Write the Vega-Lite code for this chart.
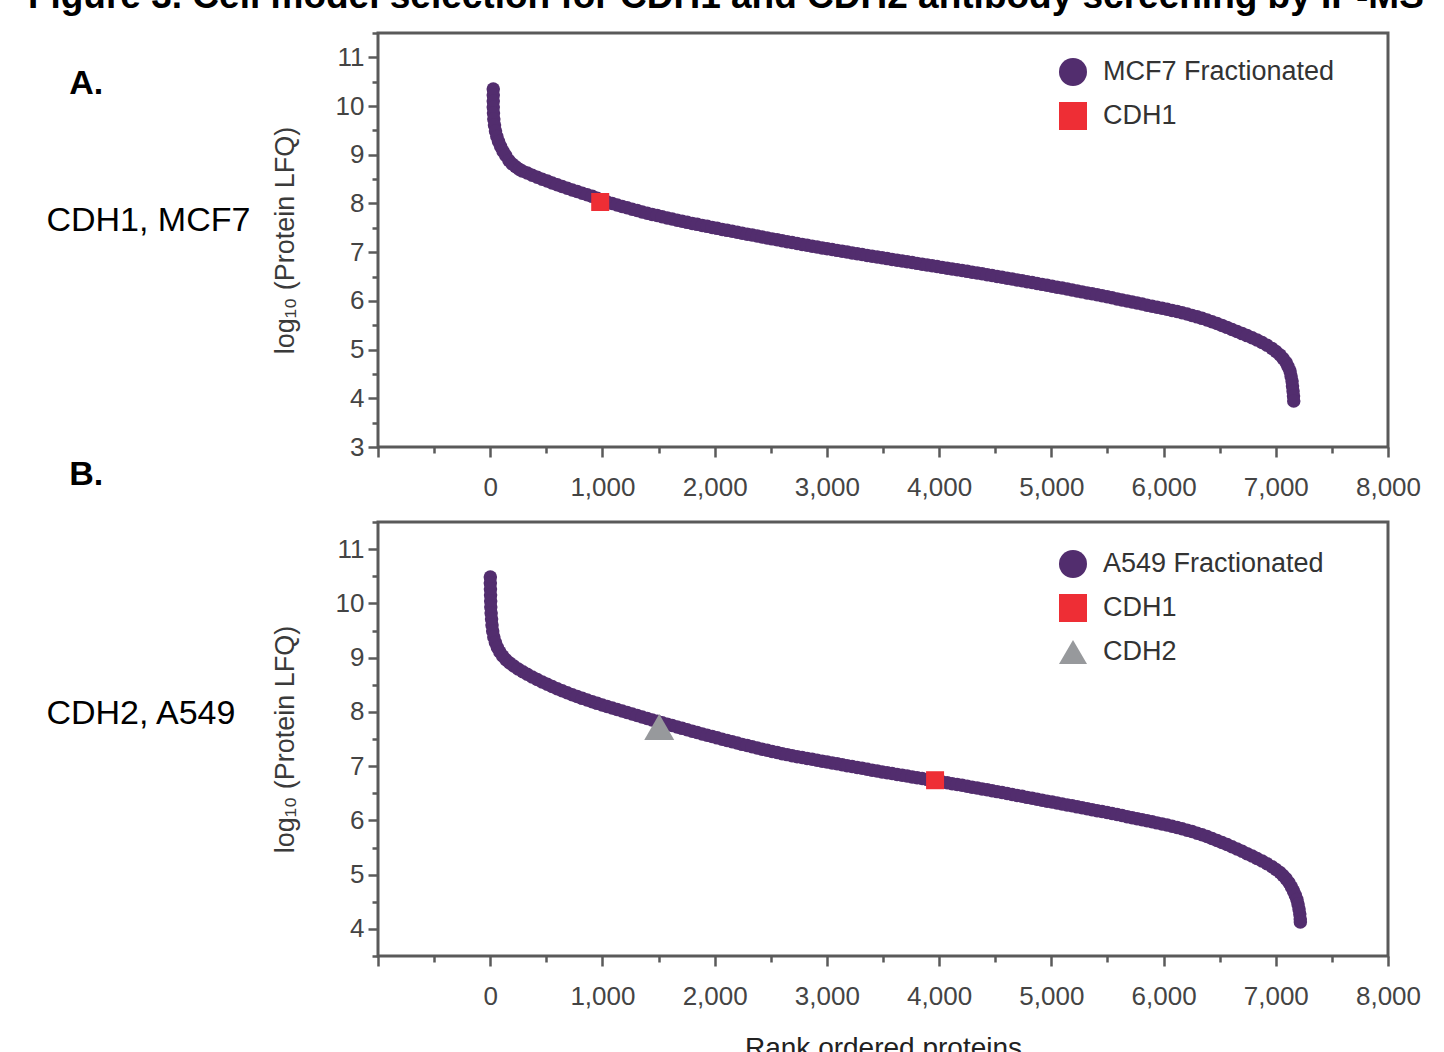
{
"$schema": "https://vega.github.io/schema/vega-lite/v6.json",
"background": "white",
"padding": {"left": 27, "top": -23, "right": 5, "bottom": -8},
"title": {"text": "Figure 3. Cell model selection for CDH1 and CDH2 antibody screening by IP-MS", "anchor": "start", "frame": "bounds", "font": "Liberation Sans", "fontSize": 37, "fontWeight": "bold", "color": "#000000", "offset": 3, "dx": -17},
"spacing": 75,
"bounds": "flush",
"resolve": {"scale": {"color": "independent", "shape": "independent"}},
"config": {
  "font": "Liberation Sans",
  "view": {"stroke": "#5a5a5a", "strokeWidth": 3},
  "axis": {"grid": false, "domain": false, "tickColor": "#5a5a5a", "tickWidth": 2.5, "tickCount": 100, "labelFont": "Liberation Sans", "labelFontSize": 26, "labelColor": "#444444", "labelFlush": false, "labelOverlap": false, "titleFont": "Liberation Sans", "titleFontWeight": "normal", "titleColor": "#3a3a3a"},
  "legend": {"labelLimit": 400}
},
"vconcat": [
{
  "width": 1010, "height": 414,
  "layer": [
    {
      "data": {"values": [
{"rank":27,"lfq":10.351},{"rank":27,"lfq":10.228},{"rank":27,"lfq":10.104},{"rank":27,"lfq":9.981},{"rank":29,"lfq":9.859},{"rank":32,"lfq":9.735},{"rank":38,"lfq":9.612},{"rank":47,"lfq":9.489},{"rank":59,"lfq":9.376},{"rank":74,"lfq":9.273},{"rank":93,"lfq":9.17},{"rank":114,"lfq":9.072},{"rank":138,"lfq":8.986},{"rank":167,"lfq":8.883},{"rank":196,"lfq":8.811},{"rank":227,"lfq":8.753},{"rank":258,"lfq":8.704},{"rank":285,"lfq":8.667},
{"rank":330,"lfq":8.624},{"rank":374,"lfq":8.581},{"rank":419,"lfq":8.54},{"rank":463,"lfq":8.499},{"rank":508,"lfq":8.46},{"rank":552,"lfq":8.421},{"rank":597,"lfq":8.384},{"rank":641,"lfq":8.347},{"rank":686,"lfq":8.312},{"rank":731,"lfq":8.277},{"rank":775,"lfq":8.244},{"rank":820,"lfq":8.211},{"rank":864,"lfq":8.179},{"rank":909,"lfq":8.146},{"rank":953,"lfq":8.109},{"rank":998,"lfq":8.068},{"rank":1042,"lfq":8.031},{"rank":1087,"lfq":7.998},{"rank":1131,"lfq":7.967},{"rank":1176,"lfq":7.938},{"rank":1220,"lfq":7.91},{"rank":1265,"lfq":7.883},{"rank":1310,"lfq":7.854},{"rank":1354,"lfq":7.827},{"rank":1399,"lfq":7.801},{"rank":1443,"lfq":7.776},{"rank":1488,"lfq":7.751},{"rank":1532,"lfq":7.727},{"rank":1577,"lfq":7.702},{"rank":1621,"lfq":7.68},{"rank":1666,"lfq":7.657},{"rank":1710,"lfq":7.634},{"rank":1755,"lfq":7.612},{"rank":1800,"lfq":7.591},{"rank":1844,"lfq":7.571},{"rank":1889,"lfq":7.55},{"rank":1933,"lfq":7.53},{"rank":1978,"lfq":7.509},{"rank":2022,"lfq":7.489},{"rank":2067,"lfq":7.468},{"rank":2111,"lfq":7.448},{"rank":2156,"lfq":7.429},{"rank":2201,"lfq":7.409},{"rank":2245,"lfq":7.39},{"rank":2290,"lfq":7.37},{"rank":2334,"lfq":7.351},{"rank":2379,"lfq":7.33},{"rank":2423,"lfq":7.312},{"rank":2468,"lfq":7.292},{"rank":2512,"lfq":7.273},{"rank":2557,"lfq":7.253},{"rank":2601,"lfq":7.234},{"rank":2646,"lfq":7.216},{"rank":2690,"lfq":7.197},{"rank":2735,"lfq":7.179},{"rank":2780,"lfq":7.16},{"rank":2824,"lfq":7.142},{"rank":2869,"lfq":7.123},{"rank":2913,"lfq":7.107},{"rank":2958,"lfq":7.088},{"rank":3002,"lfq":7.072},{"rank":3047,"lfq":7.053},{"rank":3091,"lfq":7.037},{"rank":3136,"lfq":7.018},{"rank":3180,"lfq":7.002},{"rank":3225,"lfq":6.985},{"rank":3270,"lfq":6.967},{"rank":3314,"lfq":6.951},{"rank":3359,"lfq":6.934},{"rank":3403,"lfq":6.918},{"rank":3448,"lfq":6.901},{"rank":3492,"lfq":6.885},{"rank":3537,"lfq":6.868},{"rank":3581,"lfq":6.852},{"rank":3626,"lfq":6.836},{"rank":3671,"lfq":6.819},{"rank":3715,"lfq":6.803},{"rank":3760,"lfq":6.786},{"rank":3804,"lfq":6.77},{"rank":3849,"lfq":6.754},{"rank":3893,"lfq":6.737},{"rank":3938,"lfq":6.721},{"rank":3982,"lfq":6.704},{"rank":4027,"lfq":6.688},{"rank":4072,"lfq":6.671},{"rank":4116,"lfq":6.655},{"rank":4161,"lfq":6.638},{"rank":4205,"lfq":6.622},{"rank":4250,"lfq":6.606},{"rank":4294,"lfq":6.589},{"rank":4339,"lfq":6.573},{"rank":4383,"lfq":6.556},{"rank":4428,"lfq":6.538},{"rank":4472,"lfq":6.519},{"rank":4517,"lfq":6.503},{"rank":4561,"lfq":6.485},{"rank":4606,"lfq":6.466},{"rank":4651,"lfq":6.45},{"rank":4695,"lfq":6.431},{"rank":4740,"lfq":6.413},{"rank":4784,"lfq":6.394},{"rank":4829,"lfq":6.376},{"rank":4873,"lfq":6.357},{"rank":4918,"lfq":6.339},{"rank":4962,"lfq":6.32},{"rank":5007,"lfq":6.302},{"rank":5051,"lfq":6.281},{"rank":5096,"lfq":6.263},{"rank":5141,"lfq":6.244},{"rank":5185,"lfq":6.224},{"rank":5230,"lfq":6.205},{"rank":5274,"lfq":6.185},{"rank":5319,"lfq":6.164},{"rank":5363,"lfq":6.146},{"rank":5408,"lfq":6.125},{"rank":5452,"lfq":6.105},{"rank":5497,"lfq":6.084},{"rank":5541,"lfq":6.064},{"rank":5586,"lfq":6.041},{"rank":5630,"lfq":6.02},{"rank":5675,"lfq":6.0},{"rank":5720,"lfq":5.979},{"rank":5764,"lfq":5.957},{"rank":5809,"lfq":5.936},{"rank":5853,"lfq":5.912},{"rank":5898,"lfq":5.889},{"rank":5942,"lfq":5.868},{"rank":5987,"lfq":5.848},{"rank":6031,"lfq":5.827},{"rank":6076,"lfq":5.805},{"rank":6121,"lfq":5.782},{"rank":6165,"lfq":5.757},{"rank":6210,"lfq":5.73},{"rank":6254,"lfq":5.702},{"rank":6299,"lfq":5.672},{"rank":6343,"lfq":5.641},{"rank":6388,"lfq":5.607},{"rank":6432,"lfq":5.572},{"rank":6477,"lfq":5.535},{"rank":6521,"lfq":5.497},{"rank":6566,"lfq":5.456},{"rank":6610,"lfq":5.413},{"rank":6655,"lfq":5.371},{"rank":6700,"lfq":5.328},{"rank":6744,"lfq":5.287},{"rank":6789,"lfq":5.244},{"rank":6833,"lfq":5.197},{"rank":6878,"lfq":5.146},{"rank":6922,"lfq":5.088},{"rank":6967,"lfq":5.022},{"rank":7002,"lfq":4.961},{"rank":7038,"lfq":4.889},{"rank":7065,"lfq":4.817},{"rank":7092,"lfq":4.735},{"rank":7109,"lfq":4.653},{"rank":7127,"lfq":4.56},{"rank":7136,"lfq":4.458},{"rank":7145,"lfq":4.355},{"rank":7149,"lfq":4.252},{"rank":7154,"lfq":4.15},{"rank":7158,"lfq":4.047},{"rank":7160,"lfq":3.944}
      ]},
      "mark": {"type": "point", "filled": true, "size": 182, "opacity": 1},
      "encoding": {
        "x": {"field": "rank", "type": "quantitative", "scale": {"domain": [-1000, 8000], "nice": false, "zero": false},
              "axis": {"title": null, "values": [-1000,-500,0,500,1000,1500,2000,2500,3000,3500,4000,4500,5000,5500,6000,6500,7000,7500,8000], "labelExpr": "datum.value >= 0 && datum.value % 1000 === 0 ? format(datum.value, ',') : ''", "tickSize": {"condition": {"test": "datum.value % 1000 !== 0", "value": 6}, "value": 10}, "labelPadding": 17}},
        "y": {"field": "lfq", "type": "quantitative", "scale": {"domain": [3, 11.5], "nice": false, "zero": false},
              "axis": {"title": "log₁₀ (Protein LFQ)", "titleFontSize": 27, "titlePadding": 36, "values": [3,3.5,4,4.5,5,5.5,6,6.5,7,7.5,8,8.5,9,9.5,10,10.5,11,11.5], "labelExpr": "datum.value % 1 === 0 ? format(datum.value, 'd') : ''", "tickSize": {"condition": {"test": "datum.value % 1 !== 0", "value": 6}, "value": 10}, "labelPadding": 4}},
        "color": {"datum": "MCF7 Fractionated", "type": "nominal", "scale": {"domain": ["MCF7 Fractionated", "CDH1"], "range": ["#522d6e", "#ee2e35"]},
                  "legend": {"orient": "none", "legendX": 681, "legendY": 25, "title": null, "symbolSize": 784, "symbolStrokeWidth": 0, "labelFontSize": 27, "labelColor": "#333333", "labelOffset": 16, "rowPadding": 16, "padding": 0, "labelLimit": 400}},
        "shape": {"datum": "MCF7 Fractionated", "type": "nominal", "scale": {"domain": ["MCF7 Fractionated", "CDH1"], "range": ["circle", "square"]},
                  "legend": {"orient": "none", "legendX": 681, "legendY": 25, "title": null, "symbolSize": 784, "symbolStrokeWidth": 0, "labelFontSize": 27, "labelColor": "#333333", "labelOffset": 16, "rowPadding": 16, "padding": 0, "labelLimit": 400}}
      }
    },
    {
      "data": {"values": [{"rank": 980, "lfq": 8.03}]},
      "mark": {"type": "point", "filled": true, "size": 324, "opacity": 1},
      "encoding": {
        "x": {"field": "rank", "type": "quantitative"},
        "y": {"field": "lfq", "type": "quantitative"},
        "color": {"datum": "CDH1", "type": "nominal"},
        "shape": {"datum": "CDH1", "type": "nominal"}
      }
    },
    {
      "data": {"values": [{"label": "A."}]},
      "mark": {"type": "text", "align": "left", "baseline": "alphabetic", "fontSize": 34, "fontWeight": "bold", "color": "#000000", "clip": false},
      "encoding": {"x": {"datum": -3751}, "y": {"datum": 10.248}, "text": {"field": "label"}}
    },
    {
      "data": {"values": [{"label": "CDH1, MCF7"}]},
      "mark": {"type": "text", "align": "left", "baseline": "alphabetic", "fontSize": 34, "color": "#000000", "clip": false},
      "encoding": {"x": {"datum": -3955}, "y": {"datum": 7.435}, "text": {"field": "label"}}
    }
  ]
},
{
  "width": 1010, "height": 434,
  "layer": [
    {
      "data": {"values": [
{"rank":1,"lfq":10.485},{"rank":1,"lfq":10.375},{"rank":2,"lfq":10.264},{"rank":3,"lfq":10.153},{"rank":4,"lfq":10.043},{"rank":5,"lfq":9.932},{"rank":8,"lfq":9.822},{"rank":12,"lfq":9.711},{"rank":16,"lfq":9.6},{"rank":22,"lfq":9.49},{"rank":32,"lfq":9.379},{"rank":46,"lfq":9.278},{"rank":64,"lfq":9.186},{"rank":86,"lfq":9.103},{"rank":111,"lfq":9.029},{"rank":140,"lfq":8.961},{"rank":174,"lfq":8.9},{"rank":210,"lfq":8.845},{"rank":249,"lfq":8.789},{"rank":290,"lfq":8.738},
{"rank":330,"lfq":8.692},{"rank":374,"lfq":8.642},{"rank":419,"lfq":8.596},{"rank":463,"lfq":8.552},{"rank":508,"lfq":8.509},{"rank":552,"lfq":8.469},{"rank":597,"lfq":8.428},{"rank":641,"lfq":8.388},{"rank":686,"lfq":8.351},{"rank":731,"lfq":8.316},{"rank":775,"lfq":8.282},{"rank":820,"lfq":8.249},{"rank":864,"lfq":8.218},{"rank":909,"lfq":8.187},{"rank":953,"lfq":8.157},{"rank":998,"lfq":8.128},{"rank":1042,"lfq":8.1},{"rank":1087,"lfq":8.072},{"rank":1131,"lfq":8.045},{"rank":1176,"lfq":8.017},{"rank":1220,"lfq":7.989},{"rank":1265,"lfq":7.962},{"rank":1310,"lfq":7.934},{"rank":1354,"lfq":7.906},{"rank":1399,"lfq":7.879},{"rank":1443,"lfq":7.851},{"rank":1488,"lfq":7.825},{"rank":1532,"lfq":7.8},{"rank":1577,"lfq":7.774},{"rank":1621,"lfq":7.748},{"rank":1666,"lfq":7.722},{"rank":1710,"lfq":7.696},{"rank":1755,"lfq":7.671},{"rank":1800,"lfq":7.645},{"rank":1844,"lfq":7.619},{"rank":1889,"lfq":7.593},{"rank":1933,"lfq":7.569},{"rank":1978,"lfq":7.545},{"rank":2022,"lfq":7.521},{"rank":2067,"lfq":7.497},{"rank":2111,"lfq":7.473},{"rank":2156,"lfq":7.449},{"rank":2201,"lfq":7.425},{"rank":2245,"lfq":7.401},{"rank":2290,"lfq":7.379},{"rank":2334,"lfq":7.357},{"rank":2379,"lfq":7.335},{"rank":2423,"lfq":7.313},{"rank":2468,"lfq":7.291},{"rank":2512,"lfq":7.27},{"rank":2557,"lfq":7.25},{"rank":2601,"lfq":7.23},{"rank":2646,"lfq":7.212},{"rank":2690,"lfq":7.193},{"rank":2735,"lfq":7.175},{"rank":2780,"lfq":7.158},{"rank":2824,"lfq":7.141},{"rank":2869,"lfq":7.125},{"rank":2913,"lfq":7.108},{"rank":2958,"lfq":7.092},{"rank":3002,"lfq":7.075},{"rank":3047,"lfq":7.059},{"rank":3091,"lfq":7.042},{"rank":3136,"lfq":7.025},{"rank":3180,"lfq":7.009},{"rank":3225,"lfq":6.992},{"rank":3270,"lfq":6.976},{"rank":3314,"lfq":6.959},{"rank":3359,"lfq":6.942},{"rank":3403,"lfq":6.926},{"rank":3448,"lfq":6.909},{"rank":3492,"lfq":6.893},{"rank":3537,"lfq":6.878},{"rank":3581,"lfq":6.863},{"rank":3626,"lfq":6.847},{"rank":3671,"lfq":6.832},{"rank":3715,"lfq":6.817},{"rank":3760,"lfq":6.8},{"rank":3804,"lfq":6.786},{"rank":3849,"lfq":6.771},{"rank":3893,"lfq":6.754},{"rank":3938,"lfq":6.74},{"rank":3982,"lfq":6.725},{"rank":4027,"lfq":6.708},{"rank":4072,"lfq":6.694},{"rank":4116,"lfq":6.677},{"rank":4161,"lfq":6.662},{"rank":4205,"lfq":6.646},{"rank":4250,"lfq":6.629},{"rank":4294,"lfq":6.612},{"rank":4339,"lfq":6.596},{"rank":4383,"lfq":6.579},{"rank":4428,"lfq":6.563},{"rank":4472,"lfq":6.546},{"rank":4517,"lfq":6.53},{"rank":4561,"lfq":6.513},{"rank":4606,"lfq":6.495},{"rank":4651,"lfq":6.478},{"rank":4695,"lfq":6.459},{"rank":4740,"lfq":6.443},{"rank":4784,"lfq":6.424},{"rank":4829,"lfq":6.408},{"rank":4873,"lfq":6.389},{"rank":4918,"lfq":6.373},{"rank":4962,"lfq":6.354},{"rank":5007,"lfq":6.338},{"rank":5051,"lfq":6.319},{"rank":5096,"lfq":6.303},{"rank":5141,"lfq":6.284},{"rank":5185,"lfq":6.268},{"rank":5230,"lfq":6.249},{"rank":5274,"lfq":6.233},{"rank":5319,"lfq":6.214},{"rank":5363,"lfq":6.198},{"rank":5408,"lfq":6.179},{"rank":5452,"lfq":6.163},{"rank":5497,"lfq":6.144},{"rank":5541,"lfq":6.126},{"rank":5586,"lfq":6.107},{"rank":5630,"lfq":6.089},{"rank":5675,"lfq":6.069},{"rank":5720,"lfq":6.05},{"rank":5764,"lfq":6.032},{"rank":5809,"lfq":6.013},{"rank":5853,"lfq":5.995},{"rank":5898,"lfq":5.975},{"rank":5942,"lfq":5.954},{"rank":5987,"lfq":5.934},{"rank":6031,"lfq":5.913},{"rank":6076,"lfq":5.891},{"rank":6121,"lfq":5.868},{"rank":6165,"lfq":5.845},{"rank":6210,"lfq":5.82},{"rank":6254,"lfq":5.793},{"rank":6299,"lfq":5.764},{"rank":6343,"lfq":5.734},{"rank":6388,"lfq":5.702},{"rank":6432,"lfq":5.667},{"rank":6477,"lfq":5.63},{"rank":6521,"lfq":5.593},{"rank":6566,"lfq":5.554},{"rank":6610,"lfq":5.514},{"rank":6655,"lfq":5.473},{"rank":6700,"lfq":5.431},{"rank":6744,"lfq":5.387},{"rank":6789,"lfq":5.342},{"rank":6833,"lfq":5.298},{"rank":6878,"lfq":5.25},{"rank":6922,"lfq":5.202},{"rank":6967,"lfq":5.147},{"rank":7002,"lfq":5.096},{"rank":7038,"lfq":5.038},{"rank":7065,"lfq":4.985},{"rank":7092,"lfq":4.922},{"rank":7118,"lfq":4.849},{"rank":7140,"lfq":4.771},{"rank":7158,"lfq":4.697},{"rank":7174,"lfq":4.618},{"rank":7188,"lfq":4.541},{"rank":7198,"lfq":4.458},{"rank":7207,"lfq":4.366},{"rank":7214,"lfq":4.273},{"rank":7218,"lfq":4.181},{"rank":7219,"lfq":4.126}
      ]},
      "mark": {"type": "point", "filled": true, "size": 182, "opacity": 1},
      "encoding": {
        "x": {"field": "rank", "type": "quantitative", "scale": {"domain": [-1000, 8000], "nice": false, "zero": false},
              "axis": {"title": "Rank ordered proteins", "titleFontSize": 28, "titleColor": "#222222", "titlePadding": 25, "values": [-1000,-500,0,500,1000,1500,2000,2500,3000,3500,4000,4500,5000,5500,6000,6500,7000,7500,8000], "labelExpr": "datum.value >= 0 && datum.value % 1000 === 0 ? format(datum.value, ',') : ''", "tickSize": {"condition": {"test": "datum.value % 1000 !== 0", "value": 6}, "value": 10}, "labelPadding": 17}},
        "y": {"field": "lfq", "type": "quantitative", "scale": {"domain": [3.5, 11.5], "nice": false, "zero": false},
              "axis": {"title": "log₁₀ (Protein LFQ)", "titleFontSize": 27, "titlePadding": 36, "values": [3.5,4,4.5,5,5.5,6,6.5,7,7.5,8,8.5,9,9.5,10,10.5,11,11.5], "labelExpr": "datum.value % 1 === 0 ? format(datum.value, 'd') : ''", "tickSize": {"condition": {"test": "datum.value % 1 !== 0", "value": 6}, "value": 10}, "labelPadding": 4}},
        "color": {"datum": "A549 Fractionated", "type": "nominal", "scale": {"domain": ["A549 Fractionated", "CDH1", "CDH2"], "range": ["#522d6e", "#ee2e35", "#97999c"]},
                  "legend": {"orient": "none", "legendX": 681, "legendY": 28, "title": null, "symbolSize": 784, "symbolStrokeWidth": 0, "labelFontSize": 27, "labelColor": "#333333", "labelOffset": 16, "rowPadding": 16, "padding": 0, "labelLimit": 400, "encode": {"symbols": {"size": {"signal": "datum.value === 'CDH2' ? 1089 : 784"}}}}},
        "shape": {"datum": "A549 Fractionated", "type": "nominal", "scale": {"domain": ["A549 Fractionated", "CDH1", "CDH2"], "range": ["circle", "square", "triangle-up"]},
                  "legend": {"orient": "none", "legendX": 681, "legendY": 28, "title": null, "symbolSize": 784, "symbolStrokeWidth": 0, "labelFontSize": 27, "labelColor": "#333333", "labelOffset": 16, "rowPadding": 16, "padding": 0, "labelLimit": 400, "encode": {"symbols": {"size": {"signal": "datum.value === 'CDH2' ? 1089 : 784"}}}}}
      }
    },
    {
      "data": {"values": [{"rank": 3964, "lfq": 6.74}]},
      "mark": {"type": "point", "filled": true, "size": 324, "opacity": 1},
      "encoding": {
        "x": {"field": "rank", "type": "quantitative"},
        "y": {"field": "lfq", "type": "quantitative"},
        "color": {"datum": "CDH1", "type": "nominal"},
        "shape": {"datum": "CDH1", "type": "nominal"}
      }
    },
    {
      "data": {"values": [{"rank": 1506, "lfq": 7.72}]},
      "mark": {"type": "point", "filled": true, "size": 900, "opacity": 1},
      "encoding": {
        "x": {"field": "rank", "type": "quantitative"},
        "y": {"field": "lfq", "type": "quantitative"},
        "color": {"datum": "CDH2", "type": "nominal"},
        "shape": {"datum": "CDH2", "type": "nominal"}
      }
    },
    {
      "data": {"values": [{"label": "B."}]},
      "mark": {"type": "text", "align": "left", "baseline": "alphabetic", "fontSize": 34, "fontWeight": "bold", "color": "#000000", "clip": false},
      "encoding": {"x": {"datum": -3751}, "y": {"datum": 12.182}, "text": {"field": "label"}}
    },
    {
      "data": {"values": [{"label": "CDH2, A549"}]},
      "mark": {"type": "text", "align": "left", "baseline": "alphabetic", "fontSize": 34, "color": "#000000", "clip": false},
      "encoding": {"x": {"datum": -3955}, "y": {"datum": 7.777}, "text": {"field": "label"}}
    }
  ]
}
]
}
